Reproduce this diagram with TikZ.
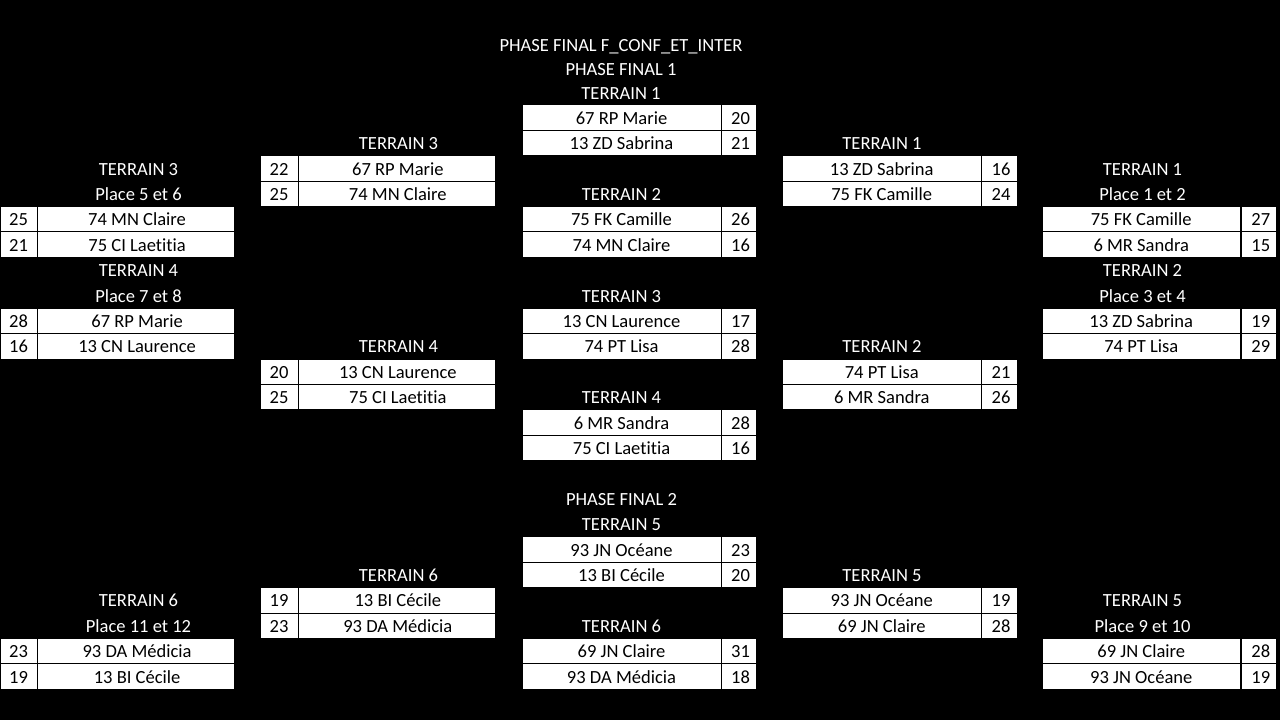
\documentclass[tikz,border=0pt]{standalone}
\usepackage{fontspec}
\setmainfont[Ligatures=NoCommon]{Carlito}
\begin{document}
\begin{tikzpicture}[x=0.75pt,y=-0.75pt,
  cellst/.style={draw=black,fill=white,line width=0.75pt,inner sep=0pt,text=black,
    font=\fontsize{13.9}{16}\selectfont,text height=10pt,text depth=0pt},
  lbl/.style={inner sep=0pt,text=white,font=\fontsize{13.9}{16}\selectfont,
    text height=10pt,text depth=0pt}]
\fill[black] (0,0) rectangle (1280,720);
\useasboundingbox (0,0) rectangle (1280,720);
% cell: name, x1, x2, row, text
\newcommand\mycell[5]{\node[cellst,minimum width={(#3-#2)*0.75pt},minimum height={25.4*0.75pt}] (#1) at ({(#2+#3)/2},{105+25.4*(#4-3)+12.7}) {#5};}
\newcommand\mylbl[4]{\node[lbl] (#1) at (#2,{105+25.4*(#3-3)+12.7}) {#4};}
\newcommand\rnum[1]{\hspace*{3pt}#1}
% column helpers
\newcommand\rowA[4]{\mycell{#1n}{0}{37}{#2}{#3}\mycell{#1t}{37}{234.5}{#2}{\hspace*{2pt}#4}}
\newcommand\rowC[4]{\mycell{#1n}{260}{298}{#2}{#3}\mycell{#1t}{298}{495}{#2}{\hspace*{2pt}#4}}
\newcommand\rowM[4]{\mycell{#1t}{522}{721}{#2}{#3}\mycell{#1n}{721}{756}{#2}{\rnum{#4}}}
\newcommand\rowR[4]{\mycell{#1t}{782.5}{981}{#2}{#3}\mycell{#1n}{981}{1017}{#2}{\rnum{#4}}}
\newcommand\rowS[4]{\mycell{#1t}{1042.5}{1240}{#2}{#3}\mycell{#1n}{1241.5}{1276}{#2}{\rnum{#4}}}
% titles
\node[lbl] (t0) at (621,44.5) {PHASE FINAL F\_CONF\_ET\_INTER};
\node[lbl] (t1) at (621,68.5) {PHASE FINAL 1};
\node[lbl] (t2) at (621,92.8) {TERRAIN 1};
% phase final 1
\rowM{m3}{3}{67 RP Marie}{20}
\rowM{m4}{4}{13 ZD Sabrina}{21}
\mylbl{lD4}{398.5}{4}{TERRAIN 3}
\mylbl{lR4}{882}{4}{TERRAIN 1}
\mylbl{lA5}{138.5}{5}{TERRAIN 3}
\rowC{c5}{5}{22}{67 RP Marie}
\rowR{r5}{5}{13 ZD Sabrina}{16}
\mylbl{lS5}{1142.5}{5}{TERRAIN 1}
\mylbl{lA6}{138.5}{6}{Place 5 et 6}
\rowC{c6}{6}{25}{74 MN Claire}
\mylbl{lM6}{621.5}{6}{TERRAIN 2}
\rowR{r6}{6}{75 FK Camille}{24}
\mylbl{lS6}{1142.5}{6}{Place 1 et 2}
\rowA{a7}{7}{25}{74 MN Claire}
\rowM{m7}{7}{75 FK Camille}{26}
\rowS{s7}{7}{75 FK Camille}{27}
\rowA{a8}{8}{21}{75 CI Laetitia}
\rowM{m8}{8}{74 MN Claire}{16}
\rowS{s8}{8}{6 MR Sandra}{15}
\mylbl{lA9}{138.5}{9}{TERRAIN 4}
\mylbl{lS9}{1142.5}{9}{TERRAIN 2}
\mylbl{lA10}{138.5}{10}{Place 7 et 8}
\mylbl{lM10}{621.5}{10}{TERRAIN 3}
\mylbl{lS10}{1142.5}{10}{Place 3 et 4}
\rowA{a11}{11}{28}{67 RP Marie}
\rowM{m11}{11}{13 CN Laurence}{17}
\rowS{s11}{11}{13 ZD Sabrina}{19}
\rowA{a12}{12}{16}{13 CN Laurence}
\mylbl{lD12}{398.5}{12}{TERRAIN 4}
\rowM{m12}{12}{74 PT Lisa}{28}
\mylbl{lR12}{882}{12}{TERRAIN 2}
\rowS{s12}{12}{74 PT Lisa}{29}
\rowC{c13}{13}{20}{13 CN Laurence}
\rowR{r13}{13}{74 PT Lisa}{21}
\rowC{c14}{14}{25}{75 CI Laetitia}
\mylbl{lM14}{621.5}{14}{TERRAIN 4}
\rowR{r14}{14}{6 MR Sandra}{26}
\rowM{m15}{15}{6 MR Sandra}{28}
\rowM{m16}{16}{75 CI Laetitia}{16}
% phase final 2
\mylbl{lM18}{621.5}{18}{PHASE FINAL 2}
\mylbl{lM19}{621.5}{19}{TERRAIN 5}
\rowM{m20}{20}{93 JN Océane}{23}
\rowM{m21}{21}{13 BI Cécile}{20}
\mylbl{lD21}{398.5}{21}{TERRAIN 6}
\mylbl{lR21}{882}{21}{TERRAIN 5}
\mylbl{lA22}{138.5}{22}{TERRAIN 6}
\rowC{c22}{22}{19}{13 BI Cécile}
\rowR{r22}{22}{93 JN Océane}{19}
\mylbl{lS22}{1142.5}{22}{TERRAIN 5}
\mylbl{lA23}{138.5}{23}{Place 11 et 12}
\rowC{c23}{23}{23}{93 DA Médicia}
\mylbl{lM23}{621.5}{23}{TERRAIN 6}
\rowR{r23}{23}{69 JN Claire}{28}
\mylbl{lS23}{1142.5}{23}{Place 9 et 10}
\rowA{a24}{24}{23}{93 DA Médicia}
\rowM{m24}{24}{69 JN Claire}{31}
\rowS{s24}{24}{69 JN Claire}{28}
\rowA{a25}{25}{19}{13 BI Cécile}
\rowM{m25}{25}{93 DA Médicia}{18}
\rowS{s25}{25}{93 JN Océane}{19}
\end{tikzpicture}
\end{document}
